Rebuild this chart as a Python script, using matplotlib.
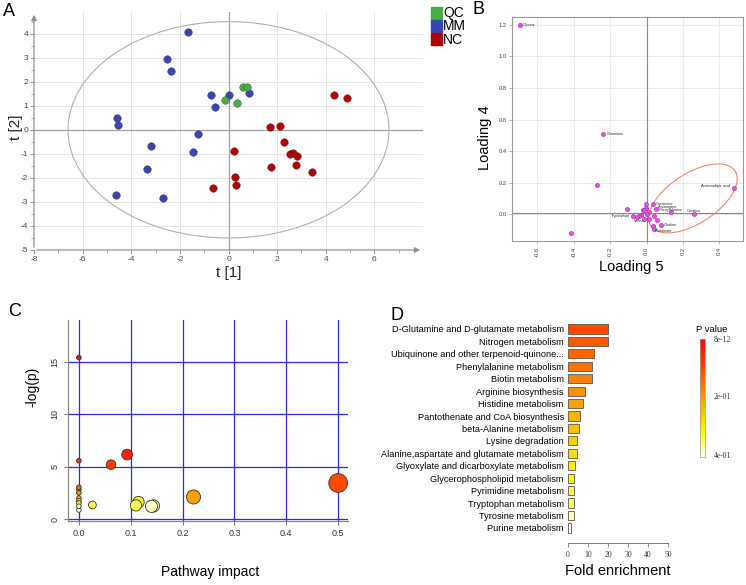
import numpy as np
import matplotlib
matplotlib.use('Agg')
import matplotlib.pyplot as plt
from matplotlib.patches import Ellipse, Rectangle
from matplotlib.colors import LinearSegmentedColormap

plt.rcParams['font.family'] = ['Liberation Sans', 'DejaVu Sans']
plt.rcParams['axes.unicode_minus'] = False

# ---- Panel A: PCA scores ----
mm_x = [-1.65, -2.55, -2.36, -0.70, 0.03, 0.85, -0.56, -4.60, -4.53, -1.26, -3.19, -1.48, -3.34, -4.62, -2.68]
mm_y = [4.08, 2.96, 2.43, 1.46, 1.46, 1.53, 0.93, 0.48, 0.22, -0.18, -0.67, -0.93, -1.63, -2.73, -2.83]
qc_x = [-0.16, 0.59, 0.76, 0.37]
qc_y = [1.25, 1.78, 1.78, 1.11]
nc_x = [4.33, 4.88, 1.69, 2.13, 2.27, 2.51, 2.65, 2.83, 0.21, 1.76, 2.76, 3.42, 0.27, 0.32, -0.63]
nc_y = [1.43, 1.33, 0.13, 0.15, -0.49, -1.01, -0.98, -1.08, -0.90, -1.56, -1.47, -1.75, -1.95, -2.30, -2.43]
groups = ['QC', 'MM', 'NC']

# ---- Panel B: loadings ----
load5 = [-0.697, -0.237, -0.273, -0.417, 0.479, 0.262, 0.134, 0.053, 0.033, -0.002, -0.004, -0.106,
         -0.022, -0.015, 0.011, 0.004, -0.029, -0.040, -0.055, -0.073, -0.015, 0.011, 0.039, 0.059,
         0.079, 0.035, 0.039]
load4 = [1.20, 0.507, 0.182, -0.12, 0.169, 0.0, 0.011, 0.030, 0.066, 0.066, 0.038, 0.034,
         0.027, 0.025, 0.011, 0.002, -0.004, -0.011, -0.021, -0.011, -0.030, -0.030, -0.013, -0.038,
         -0.070, -0.076, -0.097]
load_names = {0: 'Glycine', 1: 'Glutamine', 4: 'Aminoadipic acid', 6: 'Phenylalanine', 5: 'Creatine',
              7: 'Asparagine', 8: 'Creatinine', 19: 'Tryptophan', 17: 'Valine', 24: 'Choline', 26: 'Glutamate'}

# ---- Panel C: pathway impact ----
impact = [0, 0, 0.062, 0.093, 0, 0, 0, 0, 0, 0, 0, 0, 0.026, 0.115, 0.110, 0.144, 0.140, 0.221, 0.5]
neglogp = [15.41, 5.57, 5.19, 6.15, 3.03, 2.80, 2.50, 2.00, 1.75, 1.53, 1.22, 0.86, 1.34, 1.62, 1.30, 1.25, 1.21, 2.10, 3.44]

# ---- Panel D: enrichment ----
pathways = ['D-Glutamine and D-glutamate metabolism', 'Nitrogen metabolism',
            'Ubiquinone and other terpenoid-quinone...', 'Phenylalanine metabolism',
            'Biotin metabolism', 'Arginine biosynthesis', 'Histidine metabolism',
            'Pantothenate and CoA biosynthesis', 'beta-Alanine metabolism', 'Lysine degradation',
            'Alanine,aspartate and glutamate metabolism', 'Glyoxylate and dicarboxylate metabolism',
            'Glycerophospholipid metabolism', 'Pyrimidine metabolism', 'Tryptophan metabolism',
            'Tyrosine metabolism', 'Purine metabolism']
fold = [20, 20, 13.2, 12, 12, 8.7, 7.5, 6.2, 5.5, 4.7, 4.3, 3.5, 3.2, 3.0, 2.8, 2.8, 1.7]
pval_labels = ['8e-12', '2e-01', '4e-01']

W, H = 746, 585
fig = plt.figure(figsize=(W / 100, H / 100), dpi=100)


def ax_px(l, t, r, b):
    return fig.add_axes([l / W, 1 - b / H, (r - l) / W, (b - t) / H])


def ftext(x, y, s, **kw):
    fig.text(x / W, 1 - y / H, s, **kw)


# ================= A =================
ax = ax_px(34, 12, 423, 250)
ax.set_xlim(-8, 8)
ax.set_ylim(-5, 4.9)
for s in ax.spines.values():
    s.set_visible(False)
for yy in range(-4, 5):
    ax.axhline(yy, color='#e4e4e4', lw=0.7, zorder=0)
for xx in range(-6, 8, 2):
    ax.axvline(xx, color='#e4e4e4', lw=0.7, zorder=0)
ax.axhline(0, color='#a0a0a0', lw=0.9, zorder=1)
ax.axvline(0, color='#a0a0a0', lw=0.9, zorder=1)
ax.add_patch(Ellipse((0, 0), 13.2, 9.0, fill=False, ec='#b0b0b0', lw=0.8, zorder=1))
ax.annotate('', xy=(0, 1), xytext=(0, 0), xycoords='axes fraction',
            arrowprops=dict(arrowstyle='-|>', color='#909090', lw=0.9, mutation_scale=8))
ax.annotate('', xy=(1, 0), xytext=(0, 0), xycoords='axes fraction',
            arrowprops=dict(arrowstyle='-|>', color='#909090', lw=0.9, mutation_scale=8))
ax.set_xticks(range(-8, 8, 2))
ax.set_yticks(range(-5, 5))
ax.set_xticks(np.arange(-8, 8, 1), minor=True)
ax.set_yticks(np.arange(-5, 4.6, 0.5), minor=True)
ax.tick_params(labelsize=6, colors='#909090', labelcolor='#444444', length=3, width=0.7, pad=1)
ax.tick_params(which='minor', length=2, width=0.5, colors='#909090')
pt = dict(s=30, edgecolors='#404040', linewidths=0.3, zorder=3)
ax.scatter(mm_x, mm_y, color='#3846b4', **pt)
ax.scatter(qc_x, qc_y, color='#47ad4a', **pt)
ax.scatter(nc_x, nc_y, color='#b00000', **pt)
ftext(229, 273, 't [1]', fontsize=11, ha='center', va='center', color='#222222')
ftext(16, 127, 't [2]', fontsize=11, ha='center', va='center', rotation=90, color='#222222')

leg_cols = ['#47ad4a', '#3846b4', '#b00000']
for i, (g, c) in enumerate(zip(groups, leg_cols)):
    yc = 13 + 13 * i
    fig.patches.append(Rectangle((431 / W, 1 - (yc + 5.5) / H), 11 / W, 11 / H,
                                 transform=fig.transFigure, color=c))
    ftext(443, yc + 0.5, g, fontsize=10, va='center', ha='left')

# ================= B =================
bx = ax_px(512, 17, 743, 241)
bx.set_xlim(-0.74, 0.53)
bx.set_ylim(-0.17, 1.25)
for s in bx.spines.values():
    s.set_color('#999999')
    s.set_linewidth(0.8)
bx.set_xticks([-0.6, -0.4, -0.2, 0.0, 0.2, 0.4])
bx.set_xticklabels(['-0.6', '-0.4', '-0.2', '0.0', '0.2', '0.4'], rotation=90)
bx.set_yticks([0, 0.2, 0.4, 0.6, 0.8, 1.0, 1.2])
bx.set_yticklabels(['0.0', '0.2', '0.4', '0.6', '0.8', '1.0', '1.2'])
bx.tick_params(labelsize=4.2, colors='#999999', labelcolor='#444444', length=2, width=0.5, pad=2)
bx.grid(color='#e8e8e8', lw=0.6)
bx.set_axisbelow(True)
bx.axhline(0.01, color='#888888', lw=0.8, zorder=1)
bx.axvline(0, color='#888888', lw=0.8, zorder=1)
t = np.linspace(0, 2 * np.pi, 200)
ex = 0.255 + 0.238 * np.cos(t) + 0.05 * np.sin(t)
ey = 0.10 + 0.159 * np.cos(t) - 0.15 * np.sin(t)
bx.plot(ex, ey, color='#f08a6a', lw=0.8, zorder=2)
bx.scatter(load5, load4, s=9, color='#e055e0', edgecolors='#b020b0', linewidths=0.4, zorder=3)
offsets = {'Aminoadipic acid': (-3, 1, 'right'), 'Tryptophan': (-2, 0, 'right'),
           'Valine': (0, -4, 'center'), 'Glutamate': (1, -1, 'left'),
           'Phenylalanine': (0, 2, 'center'), 'Creatine': (0, 2, 'center'),
           'Asparagine': (1, 2, 'left')}
for i, name in load_names.items():
    dx, dy, ha = offsets.get(name, (2, 0, 'left'))
    bx.annotate(name, (load5[i], load4[i]), xytext=(dx, dy), textcoords='offset points',
                fontsize=2.8, ha=ha, va='center', color='#333333')
ftext(485, 138, 'Loading 4', fontsize=10.5, rotation=90, ha='center', va='center')
ftext(631, 267, 'Loading 5', fontsize=10.5, ha='center', va='center')

# ================= C =================
heat_y = [0.86, 1.2, 1.3, 1.6, 2.1, 3.0, 3.4, 5.2, 6.2, 16]
heat_r = [1, 1, 1, 1, 1, 1, 1, 1, 1, 1]
heat_g = [1, 1, 1, 0.95, 0.63, 0.45, 0.29, 0.24, 0.12, 0.05]
heat_b = [1, 0.8, 0.3, 0.1, 0.0, 0.0, 0.0, 0.0, 0.0, 0.0]
cx = ax_px(68, 320, 348, 521)
cx.set_xlim(-0.021, 0.519)
cx.set_ylim(-0.19, 19)
for s in ['top', 'right']:
    cx.spines[s].set_visible(False)
for s in ['left', 'bottom']:
    cx.spines[s].set_color('#888888')
    cx.spines[s].set_linewidth(0.9)
for xx in np.arange(0, 0.51, 0.1):
    cx.axvline(xx, color='#2a2ae6', lw=0.9, zorder=1)
for yy in [0, 5, 10, 15]:
    cx.axhline(yy, color='#2a2ae6', lw=0.9, zorder=1)
cx.set_xticks(np.arange(0, 0.51, 0.1))
cx.set_xticklabels(['0.0', '0.1', '0.2', '0.3', '0.4', '0.5'])
cx.set_yticks([0, 5, 10, 15])
cx.set_yticklabels(['0', '5', '10', '15'], rotation=90, va='center')
cx.tick_params(labelsize=6.5, colors='#777777', labelcolor='#333333', length=3, width=0.7, pad=3)
imp = np.array(impact)
nlp = np.array(neglogp)
rad = 2.3 + 10 * np.sqrt(imp)           # px radius grows with impact
sizes = (2 * rad * 0.72) ** 2
cols = np.column_stack([np.interp(nlp, heat_y, heat_r), np.interp(nlp, heat_y, heat_g),
                        np.interp(nlp, heat_y, heat_b)])
order = np.argsort(-sizes)
cx.scatter(imp[order], nlp[order], s=sizes[order], c=cols[order], edgecolors='#333333',
           linewidths=0.6, zorder=3, clip_on=False)
ftext(32, 387, '-log(p)', fontsize=10, rotation=90, ha='center', va='center')
ftext(210, 572, 'Pathway impact', fontsize=10, ha='center', va='center')

# ================= D =================
cmap = LinearSegmentedColormap.from_list('pv', [(0, '#ffffff'), (0.2, '#ffff00'),
                                                (0.5, '#ff9900'), (1.0, '#ff0000')])
dx_ = ax_px(568, 322, 668, 543)
ypos = np.arange(len(pathways))[::-1]
bar_cols = cmap(np.linspace(0.76, 0.02, len(pathways)))
dx_.barh(ypos, fold, height=0.74, color=bar_cols, edgecolor='#555555', linewidth=0.6)
dx_.set_xlim(0, 50)
dx_.set_ylim(-1.21, 16.56)
for s in ['top', 'right', 'left']:
    dx_.spines[s].set_visible(False)
dx_.spines['bottom'].set_color('#777777')
dx_.spines['bottom'].set_linewidth(0.7)
dx_.set_yticks(ypos)
dx_.set_yticklabels(pathways, fontsize=6.6)
dx_.tick_params(axis='y', length=0, pad=3)
dx_.set_xticks(range(0, 51, 10))
dx_.tick_params(axis='x', length=3, width=0.6, colors='#777777', labelcolor='#333333',
                labelsize=5.5, pad=3)
for lab in dx_.get_xticklabels():
    lab.set_family(['Liberation Serif', 'DejaVu Serif'])
ftext(618, 571, 'Fold enrichment', fontsize=10.5, ha='center', va='center')

cb = ax_px(700, 339, 705, 457)
grad = np.linspace(1, 0, 256).reshape(-1, 1)
cb.imshow(grad, aspect='auto', cmap=cmap, extent=[0, 1, 0, 1])
cb.set_xticks([])
cb.set_yticks([])
for s in cb.spines.values():
    s.set_color('#999999')
    s.set_linewidth(0.5)
ftext(712, 329, 'P value', fontsize=6.8, ha='center', va='center')
for lab, yy in zip(pval_labels, [340, 397, 456]):
    ftext(714, yy, lab, fontsize=5.5, ha='left', va='center',
          family=['Liberation Serif', 'DejaVu Serif'], color='#333333')

# panel letters
for letter, (x, y) in zip('ABCD', [(9, 12), (479, 10), (15, 312), (397, 316)]):
    ftext(x, y, letter, fontsize=13, ha='center', va='center')

fig.savefig('out.png', dpi=100)
